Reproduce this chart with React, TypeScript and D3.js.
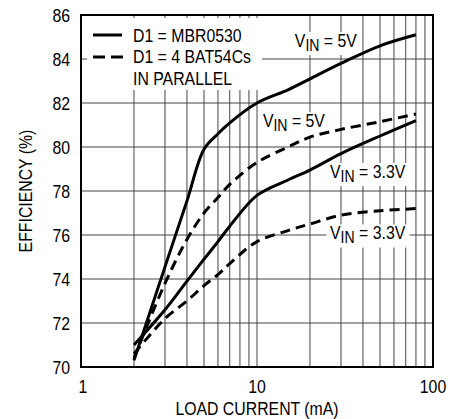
import React, { useEffect, useRef } from "react";
import * as d3 from "d3";

const W = 461;
const H = 419;
const plot = { left: 81, right: 433, top: 15, bottom: 367 };
const FONT = "'Liberation Sans', Arial, sans-serif";
const SX = 0.88; // the reference uses a condensed face

// load current (mA), shared by every curve
const current = [2, 3, 4, 5, 6, 7, 10, 15, 20, 30, 50, 80];
// efficiency (%)
const mbr5v = [70.3, 74.55, 77.55, 79.9, 80.6, 81.1, 82.0, 82.6, 83.1, 83.8, 84.6, 85.1];
const bat5v = [70.4, 73.8, 75.8, 77.0, 77.7, 78.3, 79.3, 80.0, 80.45, 80.8, 81.15, 81.5];
const mbr33v = [71.0, 72.6, 73.9, 74.9, 75.7, 76.4, 77.8, 78.5, 78.95, 79.7, 80.5, 81.2];
const bat33v = [70.6, 72.2, 73.0, 73.7, 74.2, 74.7, 75.7, 76.2, 76.5, 76.9, 77.1, 77.2];

const yTicks = [70, 72, 74, 76, 78, 80, 82, 84, 86];
const xTicks = [1, 10, 100];
const xGrid = [2, 3, 4, 5, 6, 7, 8, 9, 10, 20, 30, 40, 50, 60, 70, 80, 90];

const series = [
  { values: mbr5v, dashed: false },
  { values: bat5v, dashed: true },
  { values: mbr33v, dashed: false },
  { values: bat33v, dashed: true },
];

// curve labels: [value text, left edge (mA), baseline (%)]
const labels: [string, number, number][] = [
  ["5V", 16.4, 84.55],
  ["5V", 10.8, 80.9],
  ["3.3V", 26, 78.6],
  ["3.3V", 26, 75.8],
];

const App = () => {
  const ref = useRef<SVGSVGElement>(null);

  useEffect(() => {
    const svg = d3.select(ref.current);
    svg.selectAll("*").remove();

    const x = d3.scaleLog().domain([1, 100]).range([plot.left, plot.right]);
    const y = d3.scaleLinear().domain([70, 86]).range([plot.bottom, plot.top]);

    const text = (parent: any, tx: number, ty: number, s: string, anchor = "start", rot = 0) =>
      parent.append("text")
        .attr("transform", `translate(${tx},${ty}) rotate(${rot}) scale(${SX},1)`)
        .attr("text-anchor", anchor)
        .attr("font-family", FONT).attr("font-size", 18)
        .text(s);

    // grid
    const grid = svg.append("g").attr("stroke", "#444").attr("stroke-width", 1);
    grid.selectAll("line.v").data(xGrid).join("line")
      .attr("x1", d => x(d)).attr("x2", d => x(d))
      .attr("y1", plot.top).attr("y2", plot.bottom);
    grid.selectAll("line.h").data(yTicks.slice(1, -1)).join("line")
      .attr("x1", plot.left).attr("x2", plot.right)
      .attr("y1", d => y(d)).attr("y2", d => y(d));

    // legend box hides the grid behind it
    svg.append("rect").attr("x", 87).attr("y", 18).attr("width", 175).attr("height", 72).attr("fill", "white");

    // curve labels: white boxes go under the curves, text on top
    const boxes = svg.append("g");
    const curves = svg.append("g");
    const labelText = svg.append("g");
    labels.forEach(([v, cx, cy]) => {
      const tr = `translate(${x(cx)},${y(cy)}) scale(${SX},1)`;
      const t = labelText.append("text")
        .attr("transform", tr)
        .attr("font-family", FONT).attr("font-size", 18);
      t.append("tspan").text("V");
      t.append("tspan").attr("font-size", 16).attr("dy", 4).text("IN");
      t.append("tspan").attr("dy", -4).text(` = ${v}`);
      const b = (t.node() as SVGTextElement).getBBox();
      boxes.append("rect")
        .attr("transform", tr)
        .attr("x", b.x - 4).attr("y", b.y + 1).attr("width", b.width + 8).attr("height", b.height)
        .attr("fill", "white");
    });

    // curves
    const line = d3.line<number>()
      .x((_, i) => x(current[i]))
      .y(d => y(d))
      .curve(d3.curveCatmullRom.alpha(0.5));
    curves.selectAll("path").data(series).join("path")
      .attr("d", d => line(d.values))
      .attr("fill", "none")
      .attr("stroke", "black")
      .attr("stroke-width", 3)
      .attr("stroke-dasharray", d => (d.dashed ? "10,6" : null));

    // frame
    svg.append("rect")
      .attr("x", plot.left).attr("y", plot.top)
      .attr("width", plot.right - plot.left).attr("height", plot.bottom - plot.top)
      .attr("fill", "none").attr("stroke", "black").attr("stroke-width", 2);

    // legend
    const leg = svg.append("g");
    leg.append("line").attr("x1", 93).attr("x2", 122).attr("y1", 35).attr("y2", 35)
      .attr("stroke", "black").attr("stroke-width", 3);
    leg.append("line").attr("x1", 93).attr("x2", 123).attr("y1", 57).attr("y2", 57)
      .attr("stroke", "black").attr("stroke-width", 3).attr("stroke-dasharray", "12,6");
    text(leg, 133, 42, "D1 = MBR0530");
    text(leg, 133, 63, "D1 = 4 BAT54Cs");
    text(leg, 133, 85, "IN PARALLEL");

    // tick labels
    const ticks = svg.append("g");
    yTicks.forEach(d => text(ticks, 70, y(d) + 6.5, String(d), "end"));
    xTicks.forEach(d => text(ticks, x(d) + (d === 1 ? 2 : 0), 393, String(d), "middle"));

    // axis titles
    text(svg, 257, 415, "LOAD CURRENT (mA)", "middle");
    text(svg, 32, 191, "EFFICIENCY (%)", "middle", -90);
  }, []);

  return (
    <svg ref={ref} width={W} height={H}
      style={{ position: "absolute", left: 0, top: 0, background: "white" }} />
  );
};

export default App;
